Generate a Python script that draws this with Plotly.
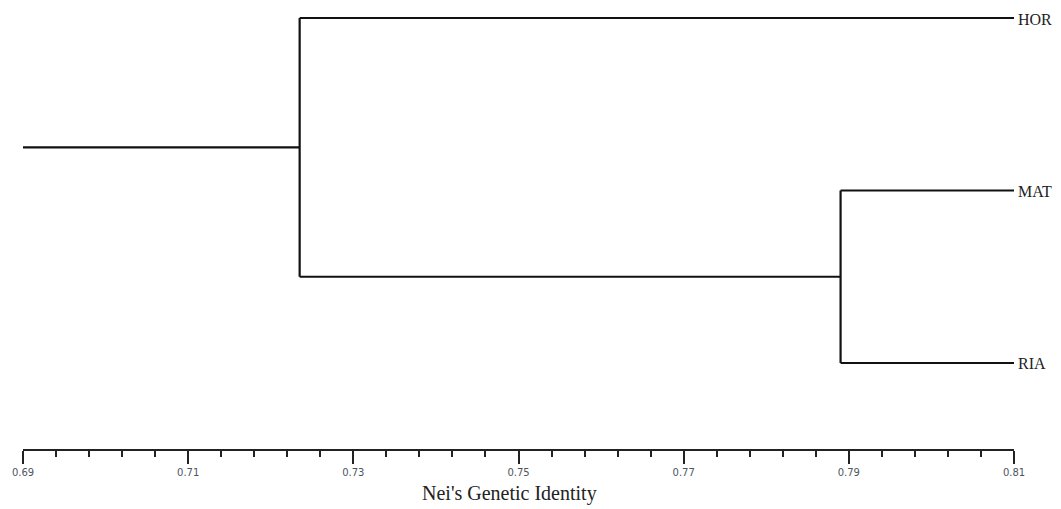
import plotly.graph_objects as go

# Data
leaves = ["HOR", "MAT", "RIA"]
leaf_rows = [3, 2, 1]              # vertical order of leaves (top to bottom)
identity_mat_ria = 0.789           # MAT + RIA join
identity_hor_rest = 0.7235         # HOR joins (MAT, RIA)
root_start = 0.69
leaf_identity = 0.81
tick_vals = [0.69, 0.71, 0.73, 0.75, 0.77, 0.79, 0.81]
tick_text = ["0.69", "0.71", "0.73", "0.75", "0.77", "0.79", "0.81"]
minor_step = 0.004

# Build dendrogram segments
y_hor, y_mat, y_ria = leaf_rows
y_c1 = (y_mat + y_ria) / 2
y_root = (y_hor + y_c1) / 2

xs, ys = [], []
def seg(x0, y0, x1, y1):
    xs.extend([x0, x1, None]); ys.extend([y0, y1, None])

seg(leaf_identity, y_mat, identity_mat_ria, y_mat)
seg(leaf_identity, y_ria, identity_mat_ria, y_ria)
seg(identity_mat_ria, y_mat, identity_mat_ria, y_ria)
seg(identity_mat_ria, y_c1, identity_hor_rest, y_c1)
seg(leaf_identity, y_hor, identity_hor_rest, y_hor)
seg(identity_hor_rest, y_hor, identity_hor_rest, y_c1)
seg(identity_hor_rest, y_root, root_start, y_root)

fig = go.Figure()
fig.add_trace(go.Scatter(x=xs, y=ys, mode="lines",
                         line=dict(color="#111111", width=2.2),
                         hoverinfo="skip", showlegend=False, cliponaxis=False))

for name, row in zip(leaves, leaf_rows):
    fig.add_annotation(x=leaf_identity, y=row, text=name, showarrow=False,
                       xanchor="left", yanchor="middle", xshift=2, yshift=-1,
                       font=dict(family="Liberation Serif", size=16, color="#222222"))

fig.add_annotation(xref="paper", yref="paper", x=0.4914, y=-0.102,
                   text="Nei's Genetic Identity", showarrow=False,
                   xanchor="center", yanchor="middle",
                   font=dict(family="Liberation Serif", size=20, color="#222222"))

fig.update_layout(
    width=1053, height=501,
    margin=dict(l=15, r=47, t=0, b=60),
    paper_bgcolor="white", plot_bgcolor="white",
    xaxis=dict(range=[root_start, leaf_identity], showgrid=False, zeroline=False,
               showline=True, linecolor="#222222", linewidth=1.5,
               ticks="outside", ticklen=13, tickwidth=1.5, tickcolor="#222222",
               tickvals=tick_vals, ticktext=tick_text,
               tickfont=dict(family="DejaVu Sans", size=10, color="#4d5560"),
               minor=dict(ticks="outside", ticklen=6, tickwidth=1.5, tickcolor="#222222",
                          tick0=root_start, dtick=minor_step, showgrid=False)),
    yaxis=dict(range=[0.5014, 3.058], visible=False, showgrid=False, zeroline=False),
)

fig.write_html("out.html")
